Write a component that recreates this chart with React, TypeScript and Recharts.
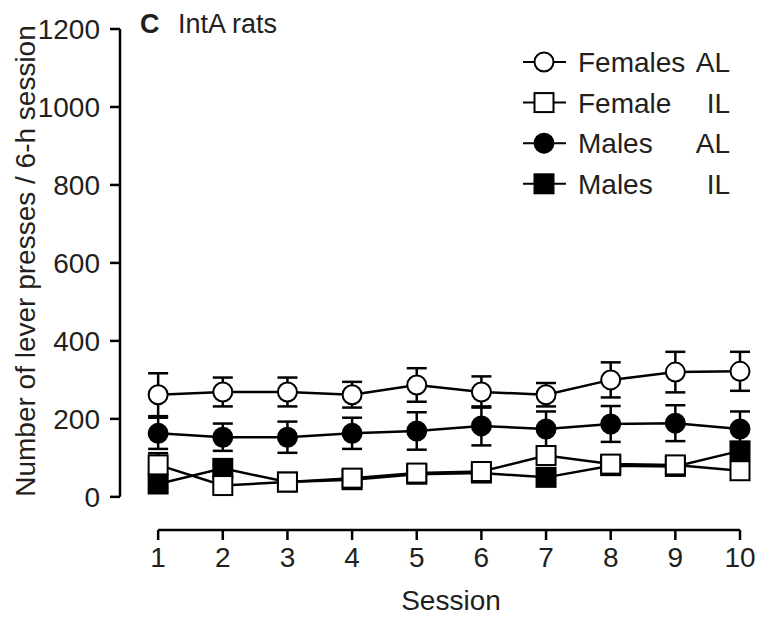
import React from 'react';
import { LineChart, Line, XAxis, YAxis, ErrorBar, ReferenceLine, Legend } from 'recharts';

// values (lever presses per 6-h session, mean and SEM)
const sessions = [1, 2, 3, 4, 5, 6, 7, 8, 9, 10];
const femalesAL = [262, 269, 269, 262, 287, 269, 262, 300, 320, 322];
const femalesALErr = [55, 37, 37, 33, 43, 40, 30, 45, 52, 50];
const malesAL = [163, 153, 153, 163, 169, 182, 174, 187, 189, 174];
const malesALErr = [40, 35, 40, 40, 48, 50, 45, 46, 46, 45];
const femaleIL = [82, 29, 38, 48, 61, 65, 106, 84, 82, 67];
const femaleILErr = [30, 10, 8, 10, 10, 10, 15, 12, 12, 12];
const malesIL = [33, 73, 38, 44, 58, 61, 50, 80, 78, 118];
const malesILErr = [10, 12, 8, 8, 8, 10, 10, 22, 10, 20];
const yTicks = [0, 200, 400, 600, 800, 1000, 1200];

const legendRows = [
  { name: 'Females', group: 'AL', shape: 'circle', fill: '#fff' },
  { name: 'Female', group: 'IL', shape: 'square', fill: '#fff' },
  { name: 'Males', group: 'AL', shape: 'circle', fill: '#000' },
  { name: 'Males', group: 'IL', shape: 'square', fill: '#000' },
];

const data = sessions.map((session, i) => ({
  session,
  femalesAL: femalesAL[i],
  femalesALErr: femalesALErr[i],
  malesAL: malesAL[i],
  malesALErr: malesALErr[i],
  femaleIL: femaleIL[i],
  femaleILErr: femaleILErr[i],
  malesIL: malesIL[i],
  malesILErr: malesILErr[i],
}));

const FONT = '"Liberation Sans", Arial, Helvetica, sans-serif';
const INK = '#231f20';

function Marker({ cx, cy, shape, fill }: any) {
  if (shape === 'square') {
    return <rect x={cx - 9.5} y={cy - 9.5} width={19} height={19} fill={fill} stroke="#000" strokeWidth={2} />;
  }
  return <circle cx={cx} cy={cy} r={9.5} fill={fill} stroke="#000" strokeWidth={2} />;
}

const makeDot = (shape: string, fill: string) => (props: any) => (
  <Marker key={`${shape}-${fill}-${props.index}`} cx={props.cx} cy={props.cy} shape={shape} fill={fill} />
);

const renderLegend = () => (
  <svg width={240} height={170} style={{ display: 'block' }}>
    {legendRows.map((row, i) => {
      const cy = 22 + i * 40.6;
      return (
        <g key={i}>
          <line x1={8} x2={51} y1={cy} y2={cy} stroke="#000" strokeWidth={2} />
          <Marker cx={29} cy={cy} shape={row.shape} fill={row.fill} />
          <text x={63} y={cy + 10} fontSize={28} fill={INK} fontFamily={FONT}>{row.name}</text>
          <text x={215} y={cy + 10} fontSize={28} fill={INK} fontFamily={FONT} textAnchor="end">{row.group}</text>
        </g>
      );
    })}
  </svg>
);

const renderYTitle = () => (
  <g fontFamily={FONT} fill={INK} fontSize={28}>
    <text x={35} y={261} textAnchor="middle" transform="rotate(-90 35 261)">
      Number of lever presses / 6-h session
    </text>
    <text x={140} y={33} fontSize={27}>
      <tspan fontWeight="bold">C</tspan>
      <tspan x={178}>IntA rats</tspan>
    </text>
  </g>
);

const renderXTitle = () => (
  <text x={451} y={610} textAnchor="middle" fontFamily={FONT} fill={INK} fontSize={28}>
    Session
  </text>
);

export default function App() {
  const tickStyle = { fontSize: 28, fill: INK, fontFamily: FONT };
  return (
    <div style={{ position: 'absolute', left: 0, top: 0, background: '#fff' }}>
      <LineChart width={772} height={618} data={data} margin={{ top: 29, right: 32, bottom: 0, left: 0 }}>
        <XAxis
          dataKey="session"
          type="number"
          domain={[0.41, 10]}
          ticks={sessions}
          axisLine={false}
          tickLine={{ stroke: '#000', strokeWidth: 2.5 }}
          tickSize={10}
          tickMargin={7}
          tick={tickStyle}
          height={88}
          label={{ content: renderXTitle }}
        />
        <YAxis
          type="number"
          domain={[-85, 1200]}
          ticks={yTicks}
          axisLine={false}
          tickLine={{ stroke: '#000', strokeWidth: 2.5 }}
          tickSize={10}
          tickMargin={10}
          tick={tickStyle}
          width={120}
          label={{ content: renderYTitle }}
        />
        <ReferenceLine
          segment={[{ x: 0.41, y: 0 }, { x: 0.41, y: 1200 }]}
          stroke="#000"
          strokeWidth={2.5}
          ifOverflow="visible"
        />
        <ReferenceLine
          segment={[{ x: 1, y: -85 }, { x: 10, y: -85 }]}
          stroke="#000"
          strokeWidth={2.5}
          ifOverflow="visible"
        />
        <Legend layout="vertical" align="center" verticalAlign="middle" content={renderLegend}
          wrapperStyle={{ left: 515, top: 40, width: 240 }} />
        <Line dataKey="femalesAL" stroke="#000" strokeWidth={2.5} isAnimationActive={false} dot={makeDot('circle', '#fff')}>
          <ErrorBar dataKey="femalesALErr" width={10} stroke="#000" strokeWidth={2.5} />
        </Line>
        <Line dataKey="malesAL" stroke="#000" strokeWidth={2.5} isAnimationActive={false} dot={makeDot('circle', '#000')}>
          <ErrorBar dataKey="malesALErr" width={10} stroke="#000" strokeWidth={2.5} />
        </Line>
        <Line dataKey="malesIL" stroke="#000" strokeWidth={2.5} isAnimationActive={false} dot={makeDot('square', '#000')}>
          <ErrorBar dataKey="malesILErr" width={10} stroke="#000" strokeWidth={2.5} />
        </Line>
        <Line dataKey="femaleIL" stroke="#000" strokeWidth={2.5} isAnimationActive={false} dot={makeDot('square', '#fff')}>
          <ErrorBar dataKey="femaleILErr" width={10} stroke="#000" strokeWidth={2.5} />
        </Line>
      </LineChart>
    </div>
  );
}
